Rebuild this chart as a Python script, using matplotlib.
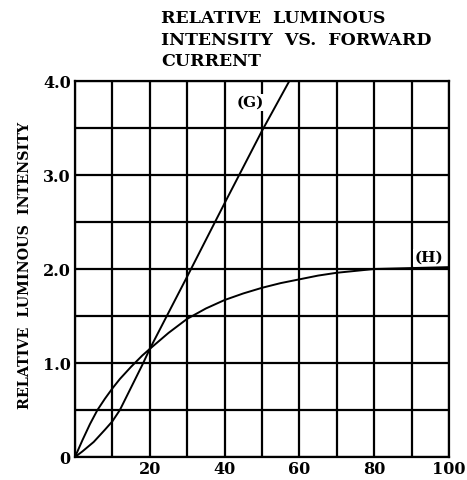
import matplotlib
matplotlib.use("Agg")
import matplotlib.pyplot as plt
from matplotlib.ticker import MultipleLocator

# Data
g_current = [0, 2, 5, 8, 10, 12, 15, 18, 20, 30, 40, 50, 58]
g_intensity = [0, 0.06, 0.16, 0.29, 0.38, 0.50, 0.74, 0.98, 1.15, 1.92, 2.70, 3.47, 4.05]

h_current = [0, 2, 4, 6, 8, 10, 12, 15, 18, 20, 25, 30, 35, 40, 45, 50, 55, 60, 65, 70, 75, 80, 90, 100]
h_intensity = [0, 0.18, 0.35, 0.50, 0.62, 0.73, 0.83, 0.96, 1.08, 1.15, 1.32, 1.47, 1.58, 1.67, 1.74, 1.80,
               1.85, 1.89, 1.93, 1.96, 1.98, 2.0, 2.01, 2.02]

x_ticks = [20, 40, 60, 80, 100]
x_ticklabels = ["20", "40", "60", "80", "100"]
y_ticks = [0, 1.0, 2.0, 3.0, 4.0]
y_ticklabels = ["0", "1.0", "2.0", "3.0", "4.0"]

font = "DejaVu Serif"

fig = plt.figure(figsize=(4.67, 4.80), dpi=100)
ax = fig.add_axes([75/467, 1 - 457/480, 374/467, 376/480])

ax.set_xlim(0, 100)
ax.set_ylim(0, 4.0)
ax.xaxis.set_minor_locator(MultipleLocator(10))
ax.yaxis.set_minor_locator(MultipleLocator(0.5))
ax.set_xticks(x_ticks)
ax.set_xticklabels(x_ticklabels)
ax.set_yticks(y_ticks)
ax.set_yticklabels(y_ticklabels)
ax.grid(True, which="both", color="black", linewidth=1.6)
ax.set_axisbelow(True)
ax.tick_params(which="both", length=0, pad=3)
for lab in ax.get_xticklabels() + ax.get_yticklabels():
    lab.set_fontfamily(font)
    lab.set_fontweight("bold")
    lab.set_fontsize(11.5)
for s in ax.spines.values():
    s.set_linewidth(1.6)

ax.plot(g_current, g_intensity, color="black", linewidth=1.4)
ax.plot(h_current, h_intensity, color="black", linewidth=1.4)

box = dict(facecolor="white", edgecolor="none", pad=1)
ax.text(47, 3.77, "(G)", fontfamily=font, fontweight="bold", fontsize=11,
        ha="center", va="center", bbox=box)
ax.text(94.7, 2.12, "(H)", fontfamily=font, fontweight="bold", fontsize=11,
        ha="center", va="center", bbox=box)

fig.text(25/467, 1 - 265/480, "RELATIVE  LUMINOUS  INTENSITY", fontfamily=font, fontweight="bold",
         fontsize=10.3, rotation=90, ha="center", va="center")

fig.text(161/467, 1 - 10/480, "RELATIVE  LUMINOUS\nINTENSITY  VS.  FORWARD\nCURRENT",
         fontfamily=font, fontweight="bold", fontsize=12.5, ha="left", va="top",
         linespacing=1.35)

fig.savefig("out.png", dpi=100)
